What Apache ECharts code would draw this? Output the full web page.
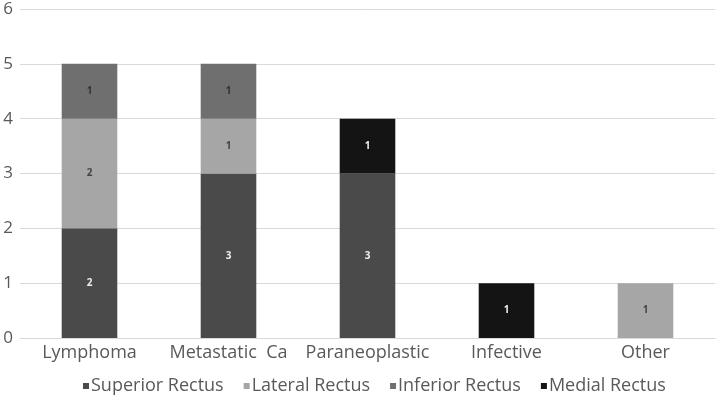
<!DOCTYPE html>
<html>
<head>
<meta charset="utf-8">
<script src="https://cdn.jsdelivr.net/npm/echarts@6/dist/echarts.min.js"></script>
<style>
  html, body { margin: 0; padding: 0; background: #fff; }
  #chart { width: 720px; height: 399px; }
</style>
</head>
<body>
<div id="chart"></div>
<script>
const categories = ['Lymphoma', 'Metastatic  Ca', 'Paraneoplastic', 'Infective', 'Other'];
const superiorRectus = [2, 3, 3, 0, 0];
const lateralRectus = [2, 1, 0, 0, 1];
const inferiorRectus = [1, 1, 0, 0, 0];
const medialRectus = [0, 0, 1, 1, 0];
const yTicks = [0, 1, 2, 3, 4, 5, 6];

let myChart = echarts.init(document.getElementById('chart'));

function mk(name, data, color, labelColor) {
    return {
        name: name,
        type: 'bar',
        stack: 'total',
        barWidth: '40%',
        data: data.map(v => v === 0 ? null : v),
        itemStyle: { color: color },
        label: {
            show: true,
            position: 'inside',
            color: labelColor,
            fontSize: 10,
            fontWeight: 'bold',
            fontFamily: 'Open Sans'
        }
    };
}

let option = {
    animation: false,
    grid: { left: 20, right: 5, top: 9, bottom: 61 },
    legend: {
        top: 377,
        left: 83,
        padding: 0,
        itemWidth: 6,
        itemHeight: 6,
        itemGap: 20,
        icon: 'rect',
        textStyle: { color: '#595959', fontSize: 18, fontFamily: 'Open Sans', padding: [0, 0, 0, -3] },
        data: ['Superior Rectus', 'Lateral Rectus', 'Inferior Rectus', 'Medial Rectus']
    },
    xAxis: {
        type: 'category',
        data: categories,
        axisLine: { lineStyle: { color: '#d9d9d9' } },
        axisTick: { show: false },
        axisLabel: { interval: 0, color: '#595959', fontSize: 18, fontFamily: 'Open Sans', margin: 6 }
    },
    yAxis: {
        type: 'value',
        min: yTicks[0],
        max: yTicks[yTicks.length - 1],
        interval: 1,
        axisLine: { show: false },
        axisTick: { show: false },
        splitLine: { lineStyle: { color: '#d9d9d9', width: 1 } },
        axisLabel: { color: '#595959', fontSize: 17, fontFamily: 'Open Sans', margin: 7 }
    },
    series: [
        mk('Superior Rectus', superiorRectus, '#4a4a4a', '#eeeeee'),
        mk('Lateral Rectus', lateralRectus, '#a6a6a6', '#444444'),
        mk('Inferior Rectus', inferiorRectus, '#6f6f6f', '#333333'),
        mk('Medial Rectus', medialRectus, '#141414', '#eeeeee')
    ]
};
option && myChart.setOption(option);
</script>
</body>
</html>
